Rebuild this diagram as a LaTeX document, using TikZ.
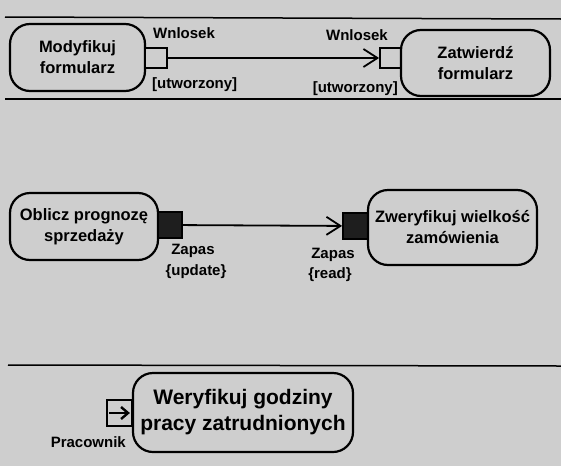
\documentclass[tikz,border=0pt]{standalone}
\usepackage{fontspec}
\setmainfont{Liberation Sans}
\usetikzlibrary{arrows.meta}
\definecolor{scan}{RGB}{206,206,206}
\definecolor{pinblack}{RGB}{30,30,30}

\begin{document}
\begin{tikzpicture}[x=1pt,y=-1pt,
  action/.style={shape=rectangle,rounded corners=20pt,draw,line width=2.2pt,fill=scan,align=center,font=\bfseries\fontsize{16.5}{21}\selectfont},
  bigaction/.style={action,font=\bfseries\fontsize{21}{26}\selectfont},
  pin/.style={shape=rectangle,draw,line width=1.8pt,fill=scan,inner sep=0pt},
  lbl/.style={font=\bfseries\fontsize{15}{17}\selectfont,inner sep=0pt},
  flow/.style={line width=1.8pt,-{Straight Barb[length=14pt,width=18pt,line width=1.8pt]}}]
\useasboundingbox[fill=scan] (0,0) rectangle (561,466);
%[separators]
\path (5,17) coordinate (s1a) (561,19) coordinate (s1b);
\path (5,99) coordinate (s2a) (561,99) coordinate (s2b);
\path (8,365) coordinate (s3a) (561,366) coordinate (s3b);
\draw [line width=1.5pt] (s1a) -- (s1b);
\draw [line width=1.5pt] (s2a) -- (s2b);
\draw [line width=1.5pt] (s3a) -- (s3b);

% first row
\path (77.5,57.5) node (modyf) [action,minimum width=135pt,minimum height=67pt] {Modyfikuj\\formularz};
\path (156,58) node (pina) [pin,minimum width=22pt,minimum height=20pt] {};
\path (390.5,58) node (pinb) [pin,minimum width=21pt,minimum height=20pt] {};
\path (475.5,63) node (zatw) [action,minimum width=149pt,minimum height=66pt] {Zatwierdź\\formularz};
\path (153,38) node [lbl,anchor=base west] {Wnlosek};
\path (152,88) node [lbl,anchor=base west] {[utworzony]};
\path (388,40) node [lbl,anchor=base east] {Wnlosek};
\path (398,92) node [lbl,anchor=base east] {[utworzony]};
\draw [flow] (pina) to (pinb);

% second row
\path (84,226.5) node (oblicz) [action,minimum width=148pt,minimum height=67pt] {Oblicz prognozę\\sprzedaży};
\path (170,225) node (pinc) [pin,fill=pinblack,minimum width=24pt,minimum height=26pt] {};
\path (355.5,226) node (pind) [pin,fill=pinblack,minimum width=25pt,minimum height=26pt] {};
\path (452.5,227.5) node (zwer) [action,minimum width=169pt,minimum height=75pt] {Zweryfikuj wielkość\\zamówienia};
\path (193,254) node [lbl,anchor=base] {Zapas};
\path (196,275) node [lbl,anchor=base] {\{update\}};
\path (333,258) node [lbl,anchor=base] {Zapas};
\path (330,278) node [lbl,anchor=base] {\{read\}};
\draw [flow] (pinc) to (pind);

% third row
\path (243,412.5) node (weryf) [bigaction,minimum width=220pt,minimum height=79pt] {Weryfikuj godziny\\pracy zatrudnionych};
\path (119.5,413) node (pine) [pin,minimum width=25pt,minimum height=26pt] {};
\path (126,447) node [lbl,anchor=base east] {Pracownik};
\draw [line width=2.4pt,-{Straight Barb[length=7pt,width=12pt,line width=2.4pt]}] ([xshift=3pt]pine.west) to ([xshift=-3pt]pine.east);
\end{tikzpicture}
\end{document}
